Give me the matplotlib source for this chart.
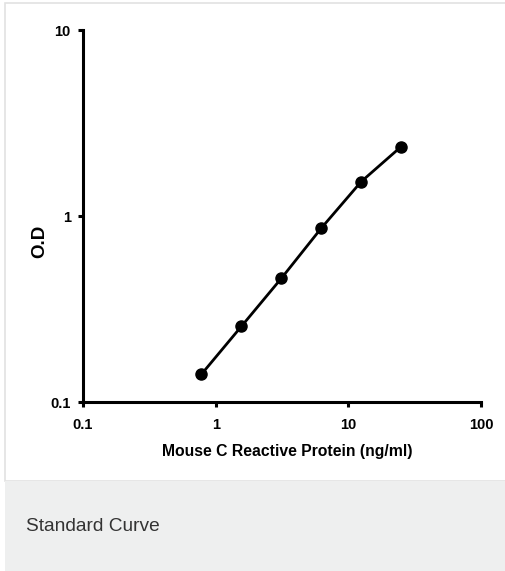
import matplotlib
matplotlib.use('Agg')
import matplotlib.pyplot as plt
from matplotlib.patches import Rectangle

# standard curve data
conc = [0.78125, 1.5625, 3.125, 6.25, 12.5, 25]
od = [0.141, 0.255, 0.462, 0.86, 1.53, 2.36]

x_ticks = [0.1, 1, 10, 100]
x_tick_labels = ['0.1', '1', '10', '100']
y_ticks = [0.1, 1, 10]
y_tick_labels = ['0.1', '1', '10']

font = ['Liberation Sans', 'DejaVu Sans']

fig = plt.figure(figsize=(5.06, 5.71), dpi=100)

# white panel with light border, grey caption strip below
W, H = 506, 571
fig.patches.append(Rectangle((5 / W, (H - 481) / H), 1.0, 478 / H, transform=fig.transFigure,
                             facecolor='white', edgecolor='#e2e2e2', linewidth=1.2, zorder=-10))
fig.patches.append(Rectangle((5 / W, 0), 1.0, (H - 481) / H, transform=fig.transFigure,
                             facecolor='#eeefef', edgecolor='none', zorder=-10))
fig.text(26 / W, (H - 531) / H, 'Standard Curve', fontsize=13.8, color='#333333',
         family=font, ha='left', va='baseline')

ax = fig.add_axes([83 / W, (H - 402) / H, 398 / W, 372 / H])
ax.set_zorder(5)
ax.patch.set_alpha(0)
ax.plot(conc, od, color='black', linewidth=2.0, marker='o', markersize=8,
        markerfacecolor='black', markeredgecolor='black', clip_on=False)
ax.set_xscale('log')
ax.set_yscale('log')
ax.set_xlim(0.1, 100)
ax.set_ylim(0.1, 10)
ax.set_xticks(x_ticks, x_tick_labels)
ax.set_yticks(y_ticks, y_tick_labels)
ax.minorticks_off()

for side in ['top', 'right']:
    ax.spines[side].set_visible(False)
for side in ['left', 'bottom']:
    ax.spines[side].set_linewidth(2.2)
ax.tick_params(axis='both', direction='out', length=3.8, width=2.2, labelsize=10.5, colors='black')
ax.tick_params(axis='x', pad=7.5)
ax.tick_params(axis='y', pad=5)
for lab in ax.get_xticklabels() + ax.get_yticklabels():
    lab.set_family(font)
    lab.set_fontweight('bold')

ax.set_xlabel('Mouse C Reactive Protein (ng/ml)', fontsize=11.3, fontweight='bold', family=font)
ax.xaxis.set_label_coords(0.513, -0.114)
ax.set_ylabel('O.D', fontsize=13.5, fontweight='bold', family=font)
ax.yaxis.set_label_coords(-0.088, 0.433)

plt.savefig('out.png', dpi=100)
